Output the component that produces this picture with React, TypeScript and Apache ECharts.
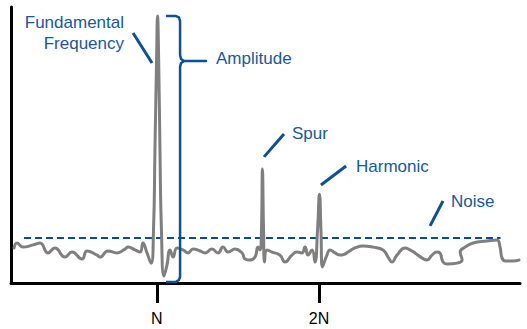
import React, { useEffect, useRef } from 'react';
import * as echarts from 'echarts';

// Spectrum trace (frequency in bins: N = 100, 2N = 200; amplitude in arbitrary units)
const traceFreq = [11.9, 13.7, 17.4, 23.6, 27.9, 32.8, 37.1, 43.3, 47.6, 53.8, 56.9, 63.1, 64.9, 69.8, 75.4, 80.3, 82.2, 86.5, 89.6, 91.4, 93.9, 96.4, 97.9, 98.8, 99.8, 100.4, 101.1, 101.9, 102.8, 104.4, 106.2, 108.1, 110.0, 112.4, 116.1, 119.2, 122.3, 126.6, 129.7, 134.0, 137.7, 140.8, 143.9, 148.2, 152.5, 154.4, 157.4, 160.5, 162.4, 163.6, 164.5, 165.1, 165.8, 166.4, 167.9, 171.0, 175.9, 179.0, 183.3, 186.4, 189.5, 191.4, 193.2, 195.7, 197.5, 199.1, 200.3, 201.2, 202.1, 204.9, 206.8, 209.9, 213.0, 216.0, 217.9, 222.2, 227.2, 233.3, 239.5, 242.6, 245.0, 248.1, 253.1, 256.1, 259.2, 263.5, 266.6, 269.7, 272.8, 274.6, 276.5, 279.0, 285.2, 288.3, 287.1, 290.1, 295.1, 303.6, 309.8, 311.7, 312.9, 314.8, 319.7, 323.4];
const traceAmp = [12.7, 14.5, 13.0, 13.8, 14.5, 10.9, 12.7, 9.4, 11.2, 8.7, 11.6, 10.1, 9.4, 11.6, 10.9, 12.3, 13.0, 12.0, 11.2, 14.5, 10.9, 7.2, 19.2, 48.2, 80.8, 96.7, 80.8, 48.2, 19.2, 2.5, 6.5, 12.0, 9.4, 12.7, 12.0, 10.9, 12.3, 11.6, 10.9, 12.3, 10.9, 13.0, 11.2, 12.3, 10.9, 8.7, 8.3, 9.4, 13.0, 12.0, 19.2, 41.3, 19.2, 7.6, 12.0, 11.2, 10.1, 7.6, 10.1, 11.2, 10.9, 13.0, 10.1, 12.0, 7.6, 19.2, 32.2, 19.2, 5.8, 10.1, 12.0, 10.9, 10.1, 10.5, 11.2, 12.7, 13.4, 13.0, 12.0, 9.4, 7.6, 10.1, 12.7, 12.0, 10.9, 9.1, 8.3, 10.1, 11.2, 10.9, 7.6, 6.9, 7.2, 8.3, 11.2, 13.0, 14.5, 15.2, 15.6, 13.0, 9.1, 8.0, 8.0, 8.3];

// Noise floor
const noiseFloorLevel = 16.3;
const noiseFloorFreq = [18, 312];

// Axis ticks
const tickValues = [100, 200];
const tickLabels = ['N', '2N'];

// Annotation geometry (data coordinates)
const bracketFreq = [105.6, 111.8, 113.6, 114.3, 114.3, 114.9, 116.7, 130.3, 116.7, 114.9, 114.3, 114.3, 113.6, 111.8, 105.6];
const bracketAmp = [96.7, 96.7, 96.2, 94.9, 82.6, 81.2, 80.4, 80.4, 80.4, 79.7, 78.3, 2.2, 1.1, 0.4, 0.4];
const leaders: number[][][] = [
  [[85.3, 90.6], [97.0, 79.7]],
  [[178.4, 54.0], [166.1, 45.7]],
  [[216.7, 42.4], [201.2, 35.5]],
  [[276.5, 29.7], [268.5, 20.7]],
];

const BLUE_TEXT = '#16599f';
const BLUE_LINE = '#0b5198';
const FONT = 'Liberation Sans, Arial, sans-serif';

export default function App() {
  const ref = useRef<HTMLDivElement>(null);
  useEffect(() => {
    const chart = echarts.init(ref.current!, null, { renderer: 'svg' });
    const traceData = traceFreq.map((f, i) => [f, traceAmp[i]]);
    const bracketData = bracketFreq.map((f, i) => [f, bracketAmp[i]]);
    const textStyle = (x: number, y: number, text: string, align: string) => ({
      type: 'text',
      x,
      y,
      silent: true,
      style: {
        text,
        fill: BLUE_TEXT,
        font: `17px ${FONT}`,
        align,
        verticalAlign: 'middle',
      },
    });
    const option: any = {
      animation: false,
      grid: { left: 11, right: 7, top: 7, bottom: 46 },
      xAxis: {
        type: 'value',
        min: 10,
        max: 324,
        axisLine: { show: true, onZero: false, lineStyle: { color: '#000', width: 3 } },
        axisTick: {
          show: true,
          customValues: tickValues,
          length: 20,
          lineStyle: { color: '#000', width: 3 },
        },
        axisLabel: {
          show: true,
          customValues: tickValues,
          margin: 27,
          fontSize: 16,
          color: '#000',
          fontFamily: FONT,
          formatter: (v: number) => tickLabels[tickValues.indexOf(v)] ?? '',
        },
        splitLine: { show: false },
      },
      yAxis: {
        type: 'value',
        min: 0,
        max: 100,
        axisLine: { show: true, lineStyle: { color: '#000', width: 3 } },
        axisTick: { show: false },
        axisLabel: { show: false },
        splitLine: { show: false },
      },
      series: [
        {
          type: 'line',
          data: noiseFloorFreq.map((f) => [f, noiseFloorLevel]),
          symbol: 'none',
          silent: true,
          lineStyle: { color: '#0d4b8e', width: 2, type: [7, 4] },
          z: 1,
        },
        {
          type: 'line',
          data: traceData,
          symbol: 'none',
          smooth: 0.5,
          silent: true,
          lineStyle: { color: '#7f7f7f', width: 3, join: 'round', cap: 'round' },
          z: 2,
        },
        {
          type: 'line',
          data: bracketData,
          symbol: 'none',
          silent: true,
          clip: false,
          lineStyle: { color: BLUE_LINE, width: 2.5, join: 'round' },
          z: 3,
        },
        ...leaders.map((seg) => ({
          type: 'line',
          data: seg,
          symbol: 'none',
          silent: true,
          clip: false,
          lineStyle: { color: BLUE_LINE, width: 3 },
          z: 3,
        })),
      ],
      graphic: [
        textStyle(124, 22, 'Fundamental', 'right'),
        textStyle(124, 43, 'Frequency', 'right'),
        textStyle(216, 58, 'Amplitude', 'left'),
        textStyle(292, 133, 'Spur', 'left'),
        textStyle(356, 166, 'Harmonic', 'left'),
        textStyle(451, 201, 'Noise', 'left'),
      ],
    };
    chart.setOption(option);
    return () => chart.dispose();
  }, []);
  return (
    <div
      ref={ref}
      style={{ position: 'fixed', left: 0, top: 0, width: 527, height: 329, background: '#fff' }}
    />
  );
}
